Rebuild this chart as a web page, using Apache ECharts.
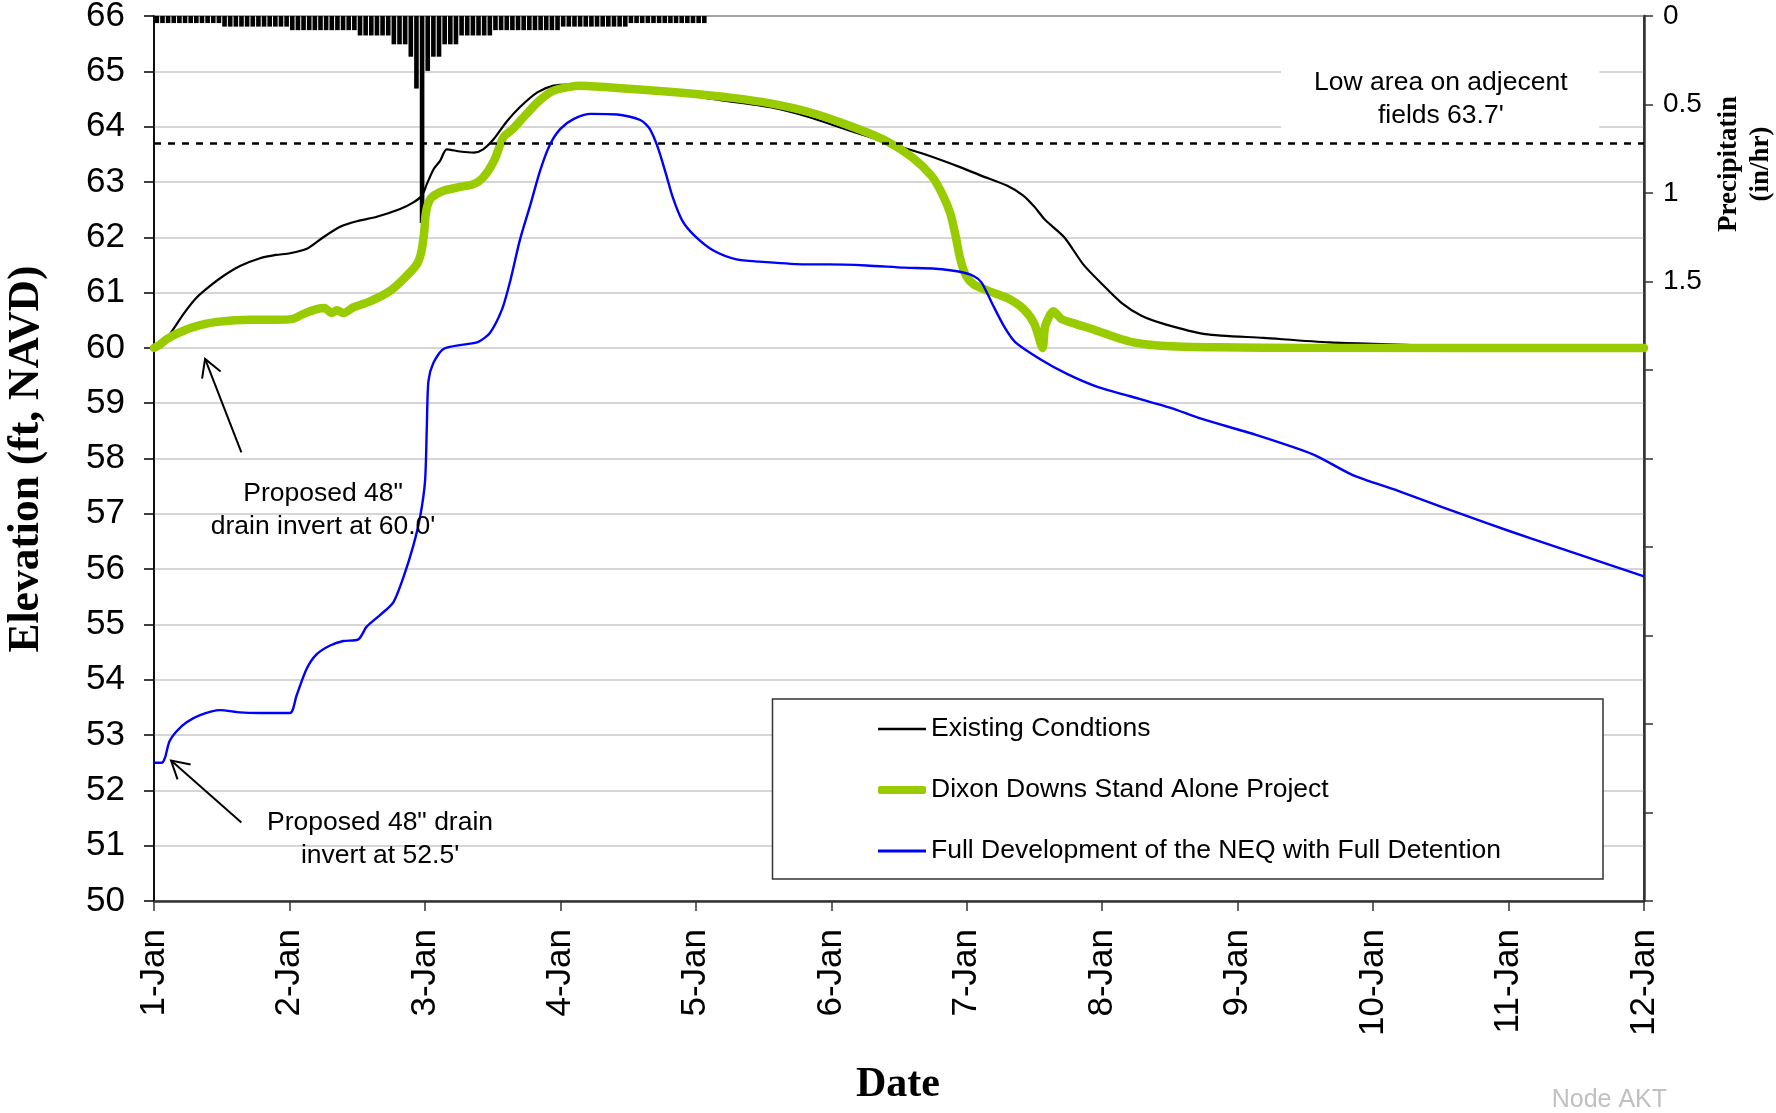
<!DOCTYPE html>
<html>
<head>
<meta charset="utf-8">
<script src="https://cdn.jsdelivr.net/npm/echarts@6/dist/echarts.min.js"></script>
<style>
  html, body { margin: 0; padding: 0; background: #ffffff; }
  #chart { width: 1776px; height: 1113px; }
</style>
</head>
<body>
<div id="chart"></div>
<script>
// ---- tick labels ----
const dayLabels = ['1-Jan', '2-Jan', '3-Jan', '4-Jan', '5-Jan', '6-Jan',
                   '7-Jan', '8-Jan', '9-Jan', '10-Jan', '11-Jan', '12-Jan'];
const precipLabels = ['0', '0.5', '1', '1.5'];

// ---- hourly rainfall (in/hr), starting 1-Jan 00:00 ----
const rainfall = [
  0.04, 0.04, 0.04, 0.04, 0.04, 0.04, 0.04, 0.04, 0.04, 0.04, 0.04, 0.04,
  0.06, 0.06, 0.06, 0.06, 0.06, 0.06, 0.06, 0.06, 0.06, 0.06, 0.06, 0.06,
  0.08, 0.08, 0.08, 0.08, 0.08, 0.08, 0.08, 0.08, 0.08, 0.08, 0.08, 0.08,
  0.11, 0.11, 0.11, 0.11, 0.11, 0.11,
  0.16, 0.16, 0.16,
  0.23, 0.41, 1.17, 0.31, 0.23, 0.23,
  0.16, 0.16, 0.16,
  0.11, 0.11, 0.11, 0.11, 0.11, 0.11,
  0.08, 0.08, 0.08, 0.08, 0.08, 0.08, 0.08, 0.08, 0.08, 0.08, 0.08, 0.08,
  0.06, 0.06, 0.06, 0.06, 0.06, 0.06, 0.06, 0.06, 0.06, 0.06, 0.06, 0.06,
  0.04, 0.04, 0.04, 0.04, 0.04, 0.04, 0.04, 0.04, 0.04, 0.04, 0.04, 0.04, 0.04, 0.04
];

// ---- water surface elevation (ft, NAVD); x = days after 1-Jan 00:00 ----
const existing = [
  [0, 60.0], [0.06, 60.1], [0.118, 60.25], [0.217, 60.61], [0.315, 60.91], [0.414, 61.12],
  [0.512, 61.30], [0.635, 61.48], [0.783, 61.62], [0.90, 61.68], [1.004, 61.71], [1.128, 61.79],
  [1.25, 62.0], [1.374, 62.19], [1.497, 62.29], [1.645, 62.37], [1.817, 62.51], [1.915, 62.63],
  [1.977, 62.75], [2.014, 62.96], [2.064, 63.23], [2.112, 63.38], [2.161, 63.59], [2.26, 63.55],
  [2.36, 63.53], [2.43, 63.59], [2.51, 63.78], [2.60, 64.08], [2.70, 64.35], [2.83, 64.62],
  [2.95, 64.74], [3.07, 64.76], [3.3, 64.72], [3.6, 64.66], [3.9, 64.58], [4.21, 64.47],
  [4.55, 64.35], [4.84, 64.17], [5.12, 63.94], [5.40, 63.72], [5.69, 63.50], [5.97, 63.25],
  [6.11, 63.11], [6.30, 62.93], [6.42, 62.75], [6.50, 62.55], [6.58, 62.31], [6.72, 62.0],
  [6.86, 61.51], [7.00, 61.15], [7.14, 60.82], [7.29, 60.58], [7.46, 60.43], [7.76, 60.25],
  [8.19, 60.18], [8.68, 60.10], [9.18, 60.06], [9.6, 60.02], [10.0, 60.0], [11.0, 60.0]
];

const dixonDowns = [
  [0, 60.0], [0.04, 60.05], [0.094, 60.16], [0.217, 60.31], [0.34, 60.41], [0.463, 60.47],
  [0.709, 60.51], [0.9, 60.51], [1.017, 60.52], [1.10, 60.61], [1.20, 60.70], [1.26, 60.72],
  [1.31, 60.63], [1.35, 60.68], [1.40, 60.63], [1.47, 60.73], [1.595, 60.84], [1.743, 61.03],
  [1.84, 61.24], [1.94, 61.51], [1.975, 61.75], [1.995, 62.1], [2.005, 62.4], [2.02, 62.58],
  [2.05, 62.72], [2.137, 62.84], [2.26, 62.91], [2.36, 62.96], [2.43, 63.08], [2.51, 63.38],
  [2.58, 63.81], [2.65, 63.96], [2.75, 64.23], [2.85, 64.48], [2.95, 64.65], [3.07, 64.72],
  [3.14, 64.74], [3.42, 64.70], [3.85, 64.62], [4.27, 64.52], [4.55, 64.42], [4.84, 64.26],
  [5.12, 64.03], [5.40, 63.75], [5.60, 63.44], [5.74, 63.11], [5.82, 62.78], [5.88, 62.42],
  [5.92, 62.0], [5.95, 61.63], [5.99, 61.33], [6.05, 61.15], [6.16, 61.03], [6.30, 60.90],
  [6.42, 60.70], [6.50, 60.43], [6.56, 60.0], [6.58, 60.40], [6.64, 60.66], [6.70, 60.52],
  [6.81, 60.43], [6.95, 60.32], [7.09, 60.20], [7.23, 60.10], [7.43, 60.04], [7.86, 60.01],
  [8.5, 60.0], [11.0, 60.0]
];

const fullDevelopment = [
  [0, 52.5], [0.057, 52.5], [0.081, 52.59], [0.113, 52.88], [0.167, 53.07], [0.241, 53.23],
  [0.34, 53.36], [0.487, 53.45], [0.635, 53.41], [0.783, 53.40], [1.004, 53.40], [1.053, 53.72],
  [1.127, 54.20], [1.20, 54.46], [1.30, 54.62], [1.398, 54.70], [1.509, 54.73], [1.57, 54.96],
  [1.669, 55.17], [1.767, 55.40], [1.841, 55.85], [1.915, 56.43], [1.965, 56.95], [2.001, 57.59],
  [2.014, 58.56], [2.026, 59.40], [2.063, 59.73], [2.137, 59.98], [2.285, 60.06], [2.395, 60.11],
  [2.48, 60.27], [2.57, 60.70], [2.63, 61.21], [2.70, 61.94], [2.78, 62.60], [2.85, 63.20],
  [2.92, 63.66], [3.0, 63.96], [3.10, 64.14], [3.225, 64.23], [3.42, 64.22], [3.59, 64.12],
  [3.66, 63.96], [3.72, 63.62], [3.78, 63.14], [3.83, 62.72], [3.90, 62.30], [3.99, 62.03],
  [4.13, 61.76], [4.30, 61.60], [4.47, 61.56], [4.81, 61.51], [4.98, 61.51], [5.26, 61.49],
  [5.54, 61.45], [5.77, 61.43], [5.94, 61.38], [6.05, 61.30], [6.11, 61.18], [6.19, 60.79],
  [6.28, 60.37], [6.36, 60.10], [6.54, 59.80], [6.74, 59.53], [6.97, 59.29], [7.20, 59.13],
  [7.50, 58.92], [7.73, 58.72], [8.13, 58.43], [8.56, 58.07], [8.85, 57.70], [9.18, 57.42],
  [9.51, 57.12], [9.84, 56.83], [10.17, 56.55], [10.50, 56.28], [11.0, 55.87]
];

const lowAreaElev = 63.7;

const SANS = "'Liberation Sans', Arial, sans-serif";
const SERIF = "'Liberation Serif', 'Times New Roman', serif";

const chart = echarts.init(document.getElementById('chart'), null, { renderer: 'canvas' });

const legendText = { fontFamily: SANS, fontSize: 26.5, color: '#000', lineHeight: 30 };
function legendFor(name, icon, h, rowY) {
  return {
    data: [{ name: name, icon: icon }],
    left: 878, top: rowY - 15,
    itemWidth: 48, itemHeight: h,
    padding: 0, itemGap: 0,
    selectedMode: false,
    itemStyle: { borderWidth: 0 },
    textStyle: legendText
  };
}

const option = {
  animation: false,
  backgroundColor: '#ffffff',
  grid: {
    left: 154, right: 132, top: 16, bottom: 212,
    show: true, borderColor: '#000', borderWidth: 1.5, backgroundColor: 'transparent',
    outerBoundsMode: 'none'
  },
  legend: [
    legendFor('Existing Condtions', 'rect', 2.5, 729),
    legendFor('Dixon Downs Stand Alone Project', 'roundRect', 8, 790),
    legendFor('Full Development of the NEQ with Full Detention', 'rect', 3, 851)
  ],
  xAxis: {
    type: 'value', min: 0, max: dayLabels.length - 1, interval: 1,
    axisLine: { show: true, onZero: false, lineStyle: { color: '#333', width: 2.5 } },
    axisTick: { show: true, inside: false, length: 10, lineStyle: { color: '#333', width: 1.5 } },
    splitLine: { show: false },
    axisLabel: {
      rotate: 90, margin: 28, fontSize: 35, fontFamily: SANS, color: '#000',
      showMinLabel: true, showMaxLabel: true, hideOverlap: false,
      formatter: v => dayLabels[Math.round(v)]
    }
  },
  yAxis: [
    {
      type: 'value', min: 50, max: 66, interval: 1, position: 'left',
      axisLine: { show: true, lineStyle: { color: '#000', width: 1.5 } },
      axisTick: { show: true, inside: false, length: 10, lineStyle: { color: '#000', width: 1.5 } },
      splitLine: { show: true, lineStyle: { color: '#c8c8c8', width: 1.5 } },
      axisLabel: { margin: 29, fontSize: 35, fontFamily: SANS, color: '#000',
                   showMinLabel: true, showMaxLabel: true }
    },
    {
      type: 'value', min: 0, max: 5, interval: 0.5, inverse: true, position: 'right',
      axisLine: { show: true, lineStyle: { color: '#333', width: 2.5 } },
      axisTick: { show: true, inside: false, length: 9, lineStyle: { color: '#333', width: 1.5 } },
      splitLine: { show: false },
      axisLabel: {
        margin: 19, fontSize: 28, fontFamily: SANS, color: '#000',
        showMinLabel: true, showMaxLabel: true,
        formatter: v => {
          const i = Math.round(v / 0.5);
          return i < precipLabels.length ? precipLabels[i] : '';
        }
      }
    }
  ],
  series: [
    {
      name: 'Precipitation', type: 'bar', xAxisIndex: 0, yAxisIndex: 1,
      data: rainfall.map((v, i) => [(i + 0.5) / 24, v]),
      barWidth: '82%',
      itemStyle: { color: '#000' },
      silent: true, z: 2
    },
    {
      name: 'Existing Condtions', type: 'line', xAxisIndex: 0, yAxisIndex: 0,
      data: existing, showSymbol: false, symbol: 'none', smooth: 0.25,
      color: '#000', itemStyle: { color: '#000' },
      lineStyle: { color: '#000', width: 2.2 }, z: 3,
      markLine: {
        silent: true, symbol: ['none', 'none'], label: { show: false },
        lineStyle: { color: '#000', width: 2.6, type: [7, 7] },
        data: [{ yAxis: lowAreaElev }]
      }
    },
    {
      name: 'Dixon Downs Stand Alone Project', type: 'line', xAxisIndex: 0, yAxisIndex: 0,
      data: dixonDowns, showSymbol: false, symbol: 'none', smooth: 0.25,
      color: '#99cc00', itemStyle: { color: '#99cc00' },
      lineStyle: { color: '#99cc00', width: 8.5, cap: 'round', join: 'round' }, z: 4
    },
    {
      name: 'Full Development of the NEQ with Full Detention', type: 'line', xAxisIndex: 0, yAxisIndex: 0,
      data: fullDevelopment, showSymbol: false, symbol: 'none', smooth: 0.25,
      color: '#0000ff', itemStyle: { color: '#0000ff' },
      lineStyle: { color: '#0000ff', width: 2.4 }, z: 5
    }
  ]
};

chart.setOption(option);

// ---- annotations, anchored in data coordinates ----
const px = pt => chart.convertToPixel({ xAxisIndex: 0, yAxisIndex: 0 }, pt);

function arrow(tip, tail) {
  const [tx, ty] = px(tip);
  const [sx, sy] = px(tail);
  const ang = Math.atan2(sy - ty, sx - tx);
  const L = 20, a = 0.52;
  const style = { stroke: '#000', lineWidth: 2, fill: null };
  return [
    { type: 'line', shape: { x1: sx, y1: sy, x2: tx, y2: ty }, style: style, z: 20 },
    { type: 'polyline', shape: { points: [
        [tx + L * Math.cos(ang + a), ty + L * Math.sin(ang + a)],
        [tx, ty],
        [tx + L * Math.cos(ang - a), ty + L * Math.sin(ang - a)]
      ] }, style: style, z: 20 }
  ];
}

function label(text, at, size) {
  const [x, y] = px(at);
  return {
    type: 'text', x: x, y: y, z: 20,
    style: { text: text, fontFamily: SANS, fontSize: size, fill: '#000',
             align: 'center', verticalAlign: 'middle', lineHeight: 33 }
  };
}

const boxTL = px([8.32, 65.20]);
const boxBR = px([10.67, 63.85]);

const graphics = [
  // white patch behind the low-area note
  { type: 'rect', z: 15,
    shape: { x: boxTL[0], y: boxTL[1], width: boxBR[0] - boxTL[0], height: boxBR[1] - boxTL[1] },
    style: { fill: '#ffffff' } },
  label('Low area on adjecent\nfields 63.7\'', [9.50, 64.50], 26.5),
  label('Proposed 48"\ndrain invert at 60.0\'', [1.248, 57.06], 26.5),
  label('Proposed 48" drain\ninvert at 52.5\'', [1.669, 51.12], 26.5),
  ...arrow([0.377, 59.80], [0.645, 58.11]),
  ...arrow([0.126, 52.54], [0.645, 51.42]),
  // legend frame
  { type: 'rect', z: 1,
    shape: { x: 772.5, y: 699, width: 830.5, height: 180 },
    style: { fill: '#ffffff', stroke: '#333', lineWidth: 1.5 } },
  // axis titles
  { type: 'text', x: 27, y: 459, rotation: Math.PI / 2, z: 20,
    style: { text: 'Elevation (ft, NAVD)', fontFamily: SERIF, fontWeight: 'bold', fontSize: 43.5,
             fill: '#000', align: 'center', verticalAlign: 'middle' } },
  { type: 'text', x: 1745, y: 164, rotation: Math.PI / 2, z: 20,
    style: { text: 'Precipitatin\n(in/hr)', fontFamily: SERIF, fontWeight: 'bold', fontSize: 27,
             lineHeight: 32, fill: '#000', align: 'center', verticalAlign: 'middle' } },
  { type: 'text', x: 898, y: 1085, z: 20,
    style: { text: 'Date', fontFamily: SERIF, fontWeight: 'bold', fontSize: 42,
             fill: '#000', align: 'center', verticalAlign: 'middle' } },
  { type: 'text', x: 1667, y: 1100, z: 20,
    style: { text: 'Node AKT', fontFamily: SANS, fontSize: 25,
             fill: '#c0c0c0', align: 'right', verticalAlign: 'middle' } }
];

chart.setOption({ graphic: graphics });
</script>
</body>
</html>
